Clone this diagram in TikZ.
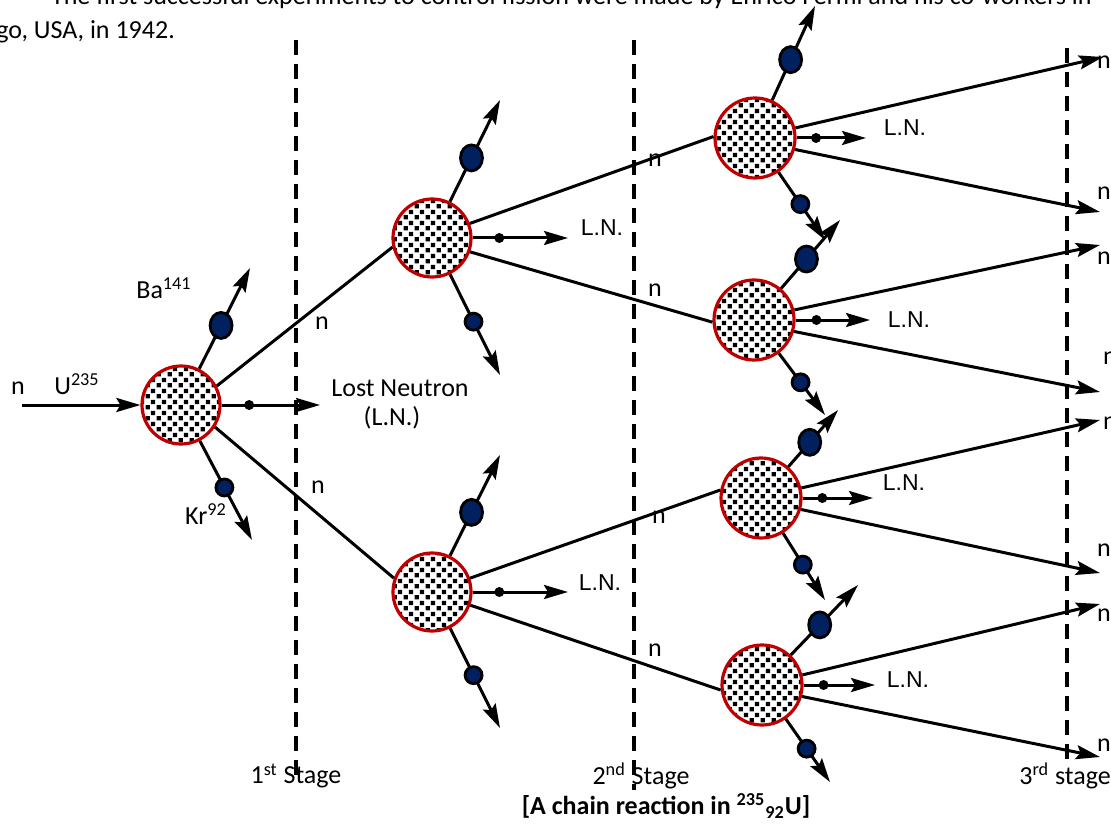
\documentclass[tikz,border=0pt]{standalone}
\usepackage{fontspec}
\setmainfont{Carlito}
\newfontfamily\arialfont{Liberation Sans}
\usetikzlibrary{arrows.meta,patterns,shapes.geometric}

\definecolor{nucred}{HTML}{C00000}
\definecolor{fragblue}{HTML}{002060}

% staggered small squares inside the nuclei
\pgfdeclarepatternformonly{nucdots}{\pgfpointorigin}{\pgfqpoint{5.6pt}{5.6pt}}{\pgfqpoint{5.6pt}{5.6pt}}{%
  \pgfpathrectangle{\pgfqpoint{0.3pt}{0.3pt}}{\pgfqpoint{2.3pt}{2.3pt}}%
  \pgfpathrectangle{\pgfqpoint{3.1pt}{3.1pt}}{\pgfqpoint{2.3pt}{2.3pt}}%
  \pgfusepath{fill}}

\begin{document}
\begin{tikzpicture}[x=0.5pt,y=-0.5pt,
	>={Stealth[length=12pt,width=7pt,inset=2pt]},
	font=\fontsize{13}{15}\selectfont,
	line width=1.5pt,
	nucleus/.style={circle,draw=nucred,line width=1.6pt,minimum size=39pt,inner sep=0pt,
		preaction={fill=white},pattern=nucdots},
	heavyfrag/.style={ellipse,draw=black,line width=1.4pt,fill=fragblue,minimum width=11pt,minimum height=13pt,inner sep=0pt},
	lightfrag/.style={circle,draw=black,line width=1.4pt,fill=fragblue,minimum size=8.5pt,inner sep=0pt},
	lostdot/.style={circle,fill=black,inner sep=0pt,minimum size=5pt},
	stageline/.style={line width=2pt,dash pattern=on 7.5pt off 4.5pt},
	lnlabel/.style={font=\arialfont\fontsize{11.5}{13}\selectfont}
	]
	\useasboundingbox (0,0) rectangle (1111,823);

	% stage separators
	\draw[stageline] (296,40) -- (296,778);
	\draw[stageline] (634,40) -- (634,790);
	\draw[stageline] (1067,48) -- (1067,765);

	% nuclei
	\node[nucleus] (n0) at (181,405) {};
	\node[nucleus] (n1) at (432,238) {};
	\node[nucleus] (n2) at (432,592) {};
	\node[nucleus,minimum size=40pt] (n3) at (755,138) {};
	\node[nucleus,minimum size=40pt] (n4) at (754,320) {};
	\node[nucleus,minimum size=40pt] (n5) at (761,498) {};
	\node[nucleus,minimum size=40pt] (n6) at (762,685) {};

	% fragments and lost neutron of every fission
	\foreach \k/\bx/\by/\kx/\ky/\lx/\ly in {0/250/268/252/540/320/405,1/500/100/500/375/568/238,2/500/455/500/728/568/592,3/815/6/825/240/866/138,4/840/220/825/415/870/320,5/838/410/825/600/873/498,6/858/585/830/782/875/685}{
		\coordinate (bat\k) at (\bx,\by);
		\coordinate (krt\k) at (\kx,\ky);
		\coordinate (lnt\k) at (\lx,\ly);
		\draw[->] (n\k) -- (bat\k) node[heavyfrag,pos=.43] (ba\k) {};
		\draw[->] (n\k) -- (krt\k) node[lightfrag,pos=.47] (kr\k) {};
		\draw[->] (n\k) -- (lnt\k) node[lostdot,pos=.28] (ln\k) {};
	}

	% incoming neutron
	\coordinate (nin) at (22,405);
	\draw[->] (nin) -- (n0);

	% neutrons carried to the next stage
	\draw (n0.28) -- (n1.193);
	\draw (n0.-33) -- (n2.160);
	\draw (n1.21) -- (n3.178);
	\draw (n1.-20) -- (n4.183);
	\draw (n2.20) -- (n5.169);
	\draw (n2.-19) -- (n6.187);

	\coordinate (t1) at (1103,57);
	\coordinate (t2) at (1100,212);
	\coordinate (t3) at (1100,245);
	\coordinate (t4) at (1100,392);
	\coordinate (t5) at (1100,420);
	\coordinate (t6) at (1100,573);
	\coordinate (t7) at (1100,604);
	\coordinate (t8) at (1100,757);
	\foreach \k/\u/\d in {3/1/2,4/3/4,5/5/6,6/7/8}{
		\draw[->] (n\k.14) -- (t\u);
		\draw[->] (n\k.-16) -- (t\d);
	}

	% labels
	\node (lbln) at (18,388) {n};
	\node (lblu) at (77,384) {U\textsuperscript{235}};
	\node (lblba) at (164,288) {Ba\textsuperscript{141}};
	\node (lblkr) at (206,514) {Kr\textsuperscript{92}};
	\node (lost) at (400,388) {Lost Neutron};
	\node (lostab) at (392,418) {(L.N.)};

	\node (na) at (322,323) {n};
	\node (nb) at (318,487) {n};
	\node (nc) at (655,160) {n};
	\node (nd) at (655,290) {n};
	\node (ne) at (659,517) {n};
	\node (nf) at (655,650) {n};

	\node (r1) at (1104,62) {n};
	\node (r2) at (1104,193) {n};
	\node (r3) at (1104,258) {n};
	\node (r4) at (1110,358) {n};
	\node (r5) at (1110,423) {n};
	\node (r6) at (1104,550) {n};
	\node (r7) at (1104,615) {n};
	\node (r8) at (1104,745) {n};

	\node[lnlabel] (ln1l) at (602,228) {L.N.};
	\node[lnlabel] (ln2l) at (600,583) {L.N.};
	\node[lnlabel] (ln3l) at (905,128) {L.N.};
	\node[lnlabel] (ln4l) at (909,320) {L.N.};
	\node[lnlabel] (ln5l) at (904,483) {L.N.};
	\node[lnlabel] (ln6l) at (908,680) {L.N.};

	\node (st1) at (296,776) {1\textsuperscript{st} Stage};
	\node (st2) at (641,776) {2\textsuperscript{nd} Stage};
	\node (st3) at (1065,776) {3\textsuperscript{rd} stage};
	\node[font=\fontsize{13}{15}\selectfont\bfseries] (caption) at (666,806)
		{[A chain reaction in \textsuperscript{235}\textsubscript{92}U]};

	% running text above
	\node[anchor=base west] (introa) at (43,5)
		{The first successful experiments to control fission were made by Enrico Fermi and his co-workers in};
	\node[anchor=base east] (introb) at (183,39) {Chicago, USA, in 1942.};
\end{tikzpicture}
\end{document}
